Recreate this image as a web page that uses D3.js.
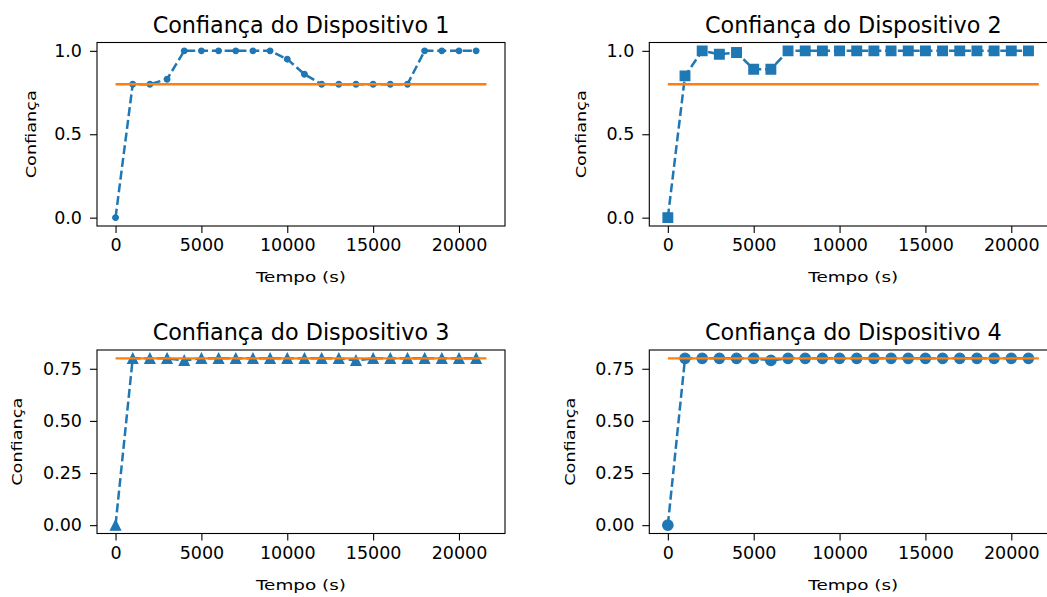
<!DOCTYPE html>
<html>
<head>
<meta charset="utf-8">
<script src="https://cdn.jsdelivr.net/npm/d3@7"></script>
<style>
  html, body { margin: 0; padding: 0; background: #fff; }
  text { font-family: 'DejaVu Sans', sans-serif; fill: #000; }
</style>
</head>
<body>
<div id="chart"></div>
<script>
// tempo (s) de cada amostra
const tempo = [0, 1000, 2000, 3000, 4000, 5000, 6000, 7000, 8000, 9000, 10000,
  11000, 12000, 13000, 14000, 15000, 16000, 17000, 18000, 19000, 20000, 21000]

const confianca1 = [0, 0.8, 0.8, 0.83, 1, 1, 1, 1, 1, 1, 0.95,
  0.86, 0.8, 0.8, 0.8, 0.8, 0.8, 0.8, 1, 1, 1, 1]
const confianca2 = [0, 0.85, 1, 0.98, 0.99, 0.89, 0.89, 1, 1, 1, 1,
  1, 1, 1, 1, 1, 1, 1, 1, 1, 1, 1]
const confianca3 = [0, 0.8, 0.8, 0.8, 0.79, 0.8, 0.8, 0.8, 0.8, 0.8, 0.8,
  0.8, 0.8, 0.8, 0.79, 0.8, 0.8, 0.8, 0.8, 0.8, 0.8, 0.8]
const confianca4 = [0, 0.8, 0.8, 0.8, 0.8, 0.8, 0.79, 0.8, 0.8, 0.8, 0.8,
  0.8, 0.8, 0.8, 0.8, 0.8, 0.8, 0.8, 0.8, 0.8, 0.8, 0.8]

// limiar (linha laranja)
const limiarValor = 0.8
const limiarTempo = [0, 21600]

const titulos = ['Confiança do Dispositivo 1', 'Confiança do Dispositivo 2',
  'Confiança do Dispositivo 3', 'Confiança do Dispositivo 4']
const marcadores = ['point', 'square', 'triangle', 'circle']
const xTicks = [0, 5000, 10000, 15000, 20000]
const yTicksCima = [0, 0.5, 1.0]
const yTicksBaixo = [0, 0.25, 0.5, 0.75]

const series = [confianca1, confianca2, confianca3, confianca4]

const width = 1047
const height = 597
const blue = '#1f77b4'
const orange = '#ff7f0e'

// posição de cada eixo (left, top) e deslocamento do rótulo y
const panelW = 408
const panelH = 183.5
const origens = [[97, 42.5], [649.3, 42.5], [97, 350], [649.3, 350]]
const yLabelX = [-61, -63, -75, -74.5]

const svg = d3.select('#chart')
  .append('svg')
  .attr('width', width)
  .attr('height', height)
  .attr('xmlns', 'http://www.w3.org/2000/svg')

svg.append('rect')
  .attr('width', width)
  .attr('height', height)
  .attr('fill', '#fff')

// margem de 5% como no matplotlib
function padded(ext) {
  const r = ext[1] - ext[0]
  return [ext[0] - r * 0.05, ext[1] + r * 0.05]
}

function markerPath(tipo) {
  if (tipo === 'point') return d3.symbol(d3.symbolCircle, Math.PI * 2.8 * 2.8)()
  if (tipo === 'circle') return d3.symbol(d3.symbolCircle, Math.PI * 5.2 * 5.2)()
  if (tipo === 'square') return 'M-4.8,-4.8L4.8,-4.8L4.8,4.8L-4.8,4.8Z'
  // triângulo '^'
  return 'M0,-5L5,5L-5,5Z'
}

function renderPanel(i) {
  const [left, top] = origens[i]
  const values = series[i]
  const yTicks = i < 2 ? yTicksCima : yTicksBaixo
  const yFmt = i < 2 ? d3.format('.1f') : d3.format('.2f')

  const xScale = d3.scaleLinear()
    .domain(padded(d3.extent(tempo.concat(limiarTempo))))
    .range([0, panelW])
  const yScale = d3.scaleLinear()
    .domain(padded(d3.extent(values.concat([limiarValor]))))
    .range([panelH, 0])

  const g = svg.append('g')
    .attr('transform', `translate(${left}, ${top})`)

  // eixo x
  const xAxis = g.append('g')
    .attr('transform', `translate(0, ${panelH})`)
    .call(d3.axisBottom(xScale).tickValues(xTicks).tickFormat(d3.format('d'))
      .tickSizeOuter(0).tickSize(7).tickPadding(6))
  // eixo y
  const yAxis = g.append('g')
    .call(d3.axisLeft(yScale).tickValues(yTicks).tickFormat(yFmt)
      .tickSizeOuter(0).tickSize(7).tickPadding(8))
  ;[xAxis, yAxis].forEach(ax => {
    ax.select('.domain').remove()
    ax.selectAll('line').attr('stroke', '#000').attr('stroke-width', 1.1)
    ax.selectAll('text')
      .attr('fill', '#000')
      .attr('font-size', 17.5)
      .attr('font-family', 'DejaVu Sans, sans-serif')
  })

  // linha tracejada da confiança
  const line = d3.line()
    .x((d, j) => xScale(tempo[j]))
    .y(d => yScale(d))
  g.append('path')
    .datum(values)
    .attr('d', line)
    .attr('fill', 'none')
    .attr('stroke', blue)
    .attr('stroke-width', 2.5)
    .attr('stroke-dasharray', '9,3.8')

  // marcadores
  g.selectAll('path.marker')
    .data(values)
    .enter()
    .append('path')
    .attr('class', 'marker')
    .attr('d', markerPath(marcadores[i]))
    .attr('transform', (d, j) => `translate(${xScale(tempo[j])}, ${yScale(d)})`)
    .attr('fill', blue)
    .attr('stroke', blue)
    .attr('stroke-width', 1.3)

  // linha do limiar (por cima da série)
  g.append('line')
    .attr('x1', xScale(limiarTempo[0]))
    .attr('x2', xScale(limiarTempo[1]))
    .attr('y1', yScale(limiarValor))
    .attr('y2', yScale(limiarValor))
    .attr('stroke', orange)
    .attr('stroke-width', 2.4)

  // moldura
  g.append('rect')
    .attr('width', panelW)
    .attr('height', panelH)
    .attr('fill', 'none')
    .attr('stroke', '#000')
    .attr('stroke-width', 1.1)

  // título
  g.append('text')
    .attr('x', panelW / 2)
    .attr('y', -10)
    .attr('text-anchor', 'middle')
    .attr('font-size', 22.3)
    .text(titulos[i])

  // rótulos dos eixos
  g.append('text')
    .attr('x', panelW / 2)
    .attr('y', panelH + 56)
    .attr('text-anchor', 'middle')
    .attr('font-size', 14.5)
    .attr('textLength', 90)
    .attr('lengthAdjust', 'spacingAndGlyphs')
    .text('Tempo (s)')
  g.append('text')
    .attr('transform', `translate(${yLabelX[i]}, ${panelH / 2}) rotate(-90)`)
    .attr('text-anchor', 'middle')
    .attr('font-size', 14.5)
    .attr('textLength', 88)
    .attr('lengthAdjust', 'spacingAndGlyphs')
    .text('Confiança')
}

for (let i = 0; i < 4; i++) renderPanel(i)
</script>
</body>
</html>
